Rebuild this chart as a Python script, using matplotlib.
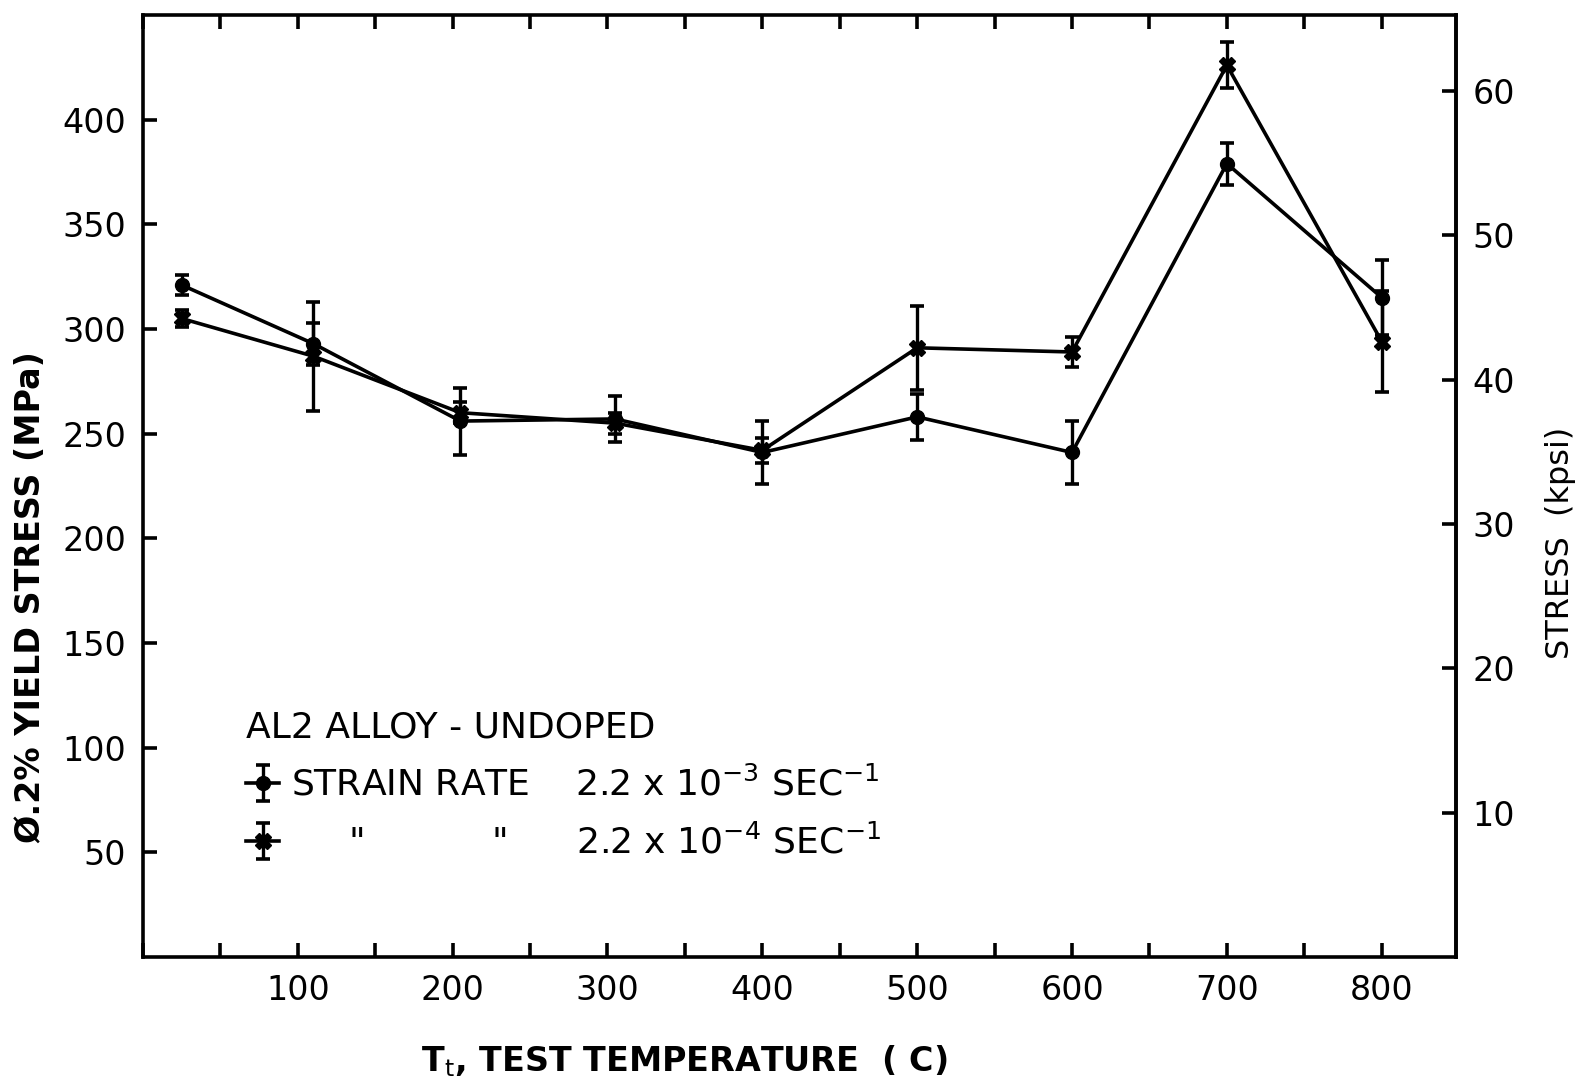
import matplotlib
matplotlib.use("Agg")
import matplotlib.pyplot as plt
from matplotlib.ticker import MultipleLocator

# test temperatures (C)
temps = [25, 110, 205, 305, 400, 500, 600, 700, 800]

# 0.2% yield stress (MPa), strain rate 2.2e-3 /s (circles)
fast_stress = [321, 293, 256, 257, 241, 258, 241, 379, 315]
fast_err = [5, 10, 16, 11, 15, 11, 15, 10, 18]

# strain rate 2.2e-4 /s (crosses)
slow_stress = [305, 287, 260, 255, 242, 291, 289, 426, 294]
slow_err = [4, 26, 5, 5, 6, 20, 7, 11, 24]

MPA_PER_KPSI = 6.895

plt.rcParams['font.family'] = ['DejaVu Sans']

fig = plt.figure(figsize=(15.83, 10.84), dpi=100)
ax = fig.add_axes([0.0903, 0.1172, 0.8295, 0.869])

eb1 = ax.errorbar(temps, fast_stress, yerr=fast_err, color='black', lw=2.6,
                  marker='o', ms=10, mfc='black', capsize=5, capthick=2.6, elinewidth=2.4)
eb2 = ax.errorbar(temps, slow_stress, yerr=slow_err, color='black', lw=2.6,
                  marker='X', ms=12, mfc='black', capsize=5, capthick=2.6, elinewidth=2.4)

ax.set_xlim(0, 848)
ax.set_ylim(0, 450)
ax.set_xticks(range(100, 801, 100))
ax.xaxis.set_minor_locator(MultipleLocator(50))
ax.set_yticks(range(50, 401, 50))

for s in ax.spines.values():
    s.set_linewidth(2.6)

ax.tick_params(axis='both', which='both', direction='in', length=10, width=2.6,
               labelsize=24, top=True, pad=12)
ax.tick_params(axis='y', which='both', right=False)

sec = ax.secondary_yaxis('right', functions=(lambda m: m / MPA_PER_KPSI,
                                             lambda k: k * MPA_PER_KPSI))
sec.set_yticks(range(10, 61, 10))
sec.tick_params(direction='in', length=10, width=2.6, labelsize=24, pad=12)
sec.spines['right'].set_linewidth(2.6)
fig.text(0.986, 0.499, 'STRESS  (kpsi)', fontsize=23, rotation=90,
         ha='center', va='center')

ax.set_xlabel('T$_\\mathrm{t}$, TEST TEMPERATURE  ( C)', fontsize=24, fontweight='bold',
              va='center', ha='center')
ax.xaxis.set_label_coords(0.412, -0.111)
ax.set_ylabel('Ø.2% YIELD STRESS (MPa)', fontsize=24, fontweight='bold',
              va='center', ha='center')
ax.yaxis.set_label_coords(-0.0853, 0.382)

lab1 = 'STRAIN RATE    2.2 x 10$^{-3}$ SEC$^{-1}$'
lab2 = '     "           "      2.2 x 10$^{-4}$ SEC$^{-1}$'
leg = ax.legend([eb1, eb2], [lab1, lab2], title='AL2 ALLOY - UNDOPED',
                loc='upper left', bbox_to_anchor=(0.054, 0.296), frameon=False,
                fontsize=26, title_fontsize=26, alignment='left',
                handlelength=0.9, handletextpad=0.35, labelspacing=0.6)

fig.savefig('out.png', dpi=100)
